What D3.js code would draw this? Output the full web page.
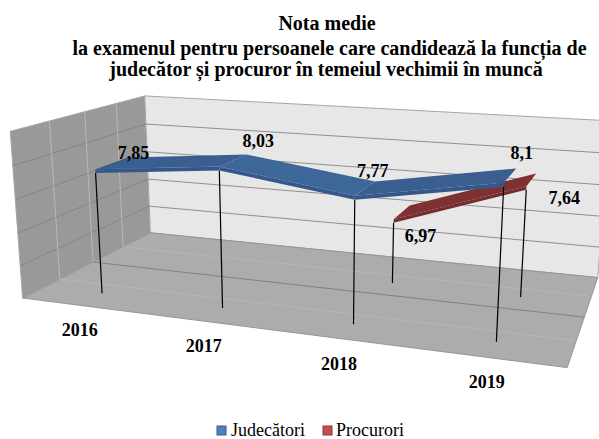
<!DOCTYPE html>
<html><head><meta charset="utf-8">
<script src="https://cdn.jsdelivr.net/npm/d3@7"></script>
<style>html,body{margin:0;padding:0;background:#fff;overflow:hidden}svg{display:block}text{font-family:"Liberation Serif",serif;fill:#000}</style>
</head><body><svg id="c" width="599" height="439"></svg>
<script>
const categories = ["2016","2017","2018","2019"];
const seriesNames = ["Judecători","Procurori"];
const judecatori = [7.85,8.03,7.77,8.1];
const procurori = [null,null,6.97,7.64];
const seriesValues = [judecatori,procurori];
const titleLines = ["Nota medie","la examenul pentru persoanele care candidează la funcția de","judecător și procuror în temeiul vechimii în muncă"];
const seriesColors = ["#3e6799","#8a3434"];
const seriesColorsAlt = ["#395e8f","#7f3030"];
const seriesFace = ["#35588a","#752c2c"];
const legendFill = ["#4f81bd","#c0504d"];
const legendStroke = ["#385d8a","#8c3836"];

// Perspective camera: fitted from the visible corners of the 3-D box (u across, z depth, w up)
const corners = [[0,0,0,23,298],[1,0,0,567,368],[0,1,0,150,233],[1,1,0,598,277],[0,0,1,10,131],[0,1,1,145,96],[1,1,1,609,121]];
function fitCamera(pts){
  const A=[],b=[];
  pts.forEach(([X,Y,Z,px,py])=>{
    const x=px/100,y=py/100;
    A.push([X,Y,Z,1,0,0,0,0,-x*X,-x*Y,-x*Z]);b.push(x);
    A.push([0,0,0,0,X,Y,Z,1,-y*X,-y*Y,-y*Z]);b.push(y);
  });
  const n=11,M=d3.range(n).map(i=>d3.range(n+1).map(j=>{
    let s=0;A.forEach((r,k)=>{s+=r[i]*(j<n?r[j]:b[k]);});return s;}));
  for(let i=0;i<n;i++){
    let p=i;for(let r=i+1;r<n;r++)if(Math.abs(M[r][i])>Math.abs(M[p][i]))p=r;
    [M[i],M[p]]=[M[p],M[i]];
    for(let r=0;r<n;r++){if(r===i)continue;const f=M[r][i]/M[i][i];for(let c=i;c<=n;c++)M[r][c]-=f*M[i][c];}
  }
  return d3.range(n).map(i=>M[i][n]/M[i][i]);
}
const P=fitCamera(corners);
function project(u,z,w){
  const d=P[8]*u+P[9]*z+P[10]*w+1;
  return [100*(P[0]*u+P[1]*z+P[2]*w+P[3])/d,100*(P[4]*u+P[5]*z+P[6]*w+P[7])/d];
}
const xBand=d3.scaleBand().domain(categories).range([0,1]);
const xPos=c=>xBand(c)+xBand.bandwidth()/2;
const zBand=d3.scaleBand().domain(seriesNames).range([.02,1.02]).paddingInner(.52).paddingOuter(.26);
const yScale=d3.scaleLinear().domain([6,8.5]).range([0,1]);
const zTicks=[.25,.5,.75];
const ribbonThickness=.022;

const svg=d3.select("#c");
const poly=pts=>"M"+pts.map(p=>p.map(v=>v.toFixed(2)).join(",")).join("L")+"Z";
const line=(a,b,stroke,sw)=>svg.append("line").attr("x1",a[0]).attr("y1",a[1]).attr("x2",b[0]).attr("y2",b[1]).attr("stroke",stroke).attr("stroke-width",sw);

// walls and floor
svg.append("path").attr("d",poly([project(0,0,0),project(0,1,0),project(0,1,1),project(0,0,1)])).attr("fill","#999999").attr("stroke","#a6a6a6").attr("stroke-width",1);
svg.append("path").attr("d",poly([project(0,1,0),project(1,1,0),project(1,1,1),project(0,1,1)])).attr("fill","#e7e7e7").attr("stroke","#a6a6a6").attr("stroke-width",1);
svg.append("path").attr("d",poly([project(0,0,0),project(1,0,0),project(1,1,0),project(0,1,0)])).attr("fill","#acacac").attr("stroke","#959595").attr("stroke-width",1);

// value gridlines on the walls
yScale.ticks(5).slice(1,-1).forEach(v=>{
  const w=yScale(v);
  line(project(0,0,w),project(0,1,w),"#858585",1);
  line(project(0,1,w),project(1,1,w),"#8f8f8f",1);
});
// depth gridlines
zTicks.forEach(z=>{
  const mid=z===.5;
  line(project(0,z,0),project(1,z,0),mid?"#808080":"#b6b6b6",1);
  line(project(0,z,0),project(0,z,1),"#b8b8b8",1);
});

// series, back to front
d3.range(seriesNames.length).reverse().forEach(si=>{
  const name=seriesNames[si],vals=seriesValues[si];
  const z0=zBand(name),z1=z0+zBand.bandwidth(),t=ribbonThickness;
  const pts=categories.map((c,i)=>({c,v:vals[i],u:xPos(c)})).filter(d=>d.v!==null);
  pts.forEach(d=>line(project(d.u,z0,0),project(d.u,z0,yScale(d.v)),"#000",1.2));
  d3.pairs(pts).forEach(([a,b],k)=>{
    const wa=yScale(a.v),wb=yScale(b.v);
    svg.append("path").attr("d",poly([project(a.u,z0,wa+t),project(b.u,z0,wb+t),project(b.u,z1,wb+t),project(a.u,z1,wa+t)]))
      .attr("fill",k%2?seriesColors[si]:seriesColorsAlt[si]);
    svg.append("path").attr("d",poly([project(a.u,z0,wa),project(b.u,z0,wb),project(b.u,z0,wb+t),project(a.u,z0,wa+t)]))
      .attr("fill",seriesFace[si]);
  });
});

// data labels, placed relative to each projected point
const labelOffsets=[[[38,-20],[39,-29],[18,-29],[18,-34]],[null,null,[27,13],[38,8]]];
const fmt=v=>String(v).replace(".",",");
seriesNames.forEach((name,si)=>{
  categories.forEach((c,i)=>{
    const v=seriesValues[si][i];if(v===null)return;
    const p=project(xPos(c),zBand(name),yScale(v)),o=labelOffsets[si][i];
    svg.append("text").attr("x",p[0]+o[0]).attr("y",p[1]+o[1]+6).attr("text-anchor","middle")
      .attr("font-size",18).attr("font-weight","bold").text(fmt(v));
  });
});
// category labels
categories.forEach(c=>{
  const p=project(xPos(c),0,0);
  svg.append("text").attr("x",p[0]-1).attr("y",p[1]+31).attr("text-anchor","middle")
    .attr("font-size",18).attr("font-weight","bold").text(c);
});
// title
const titleX=[327,329.5,326],titleY=[30,55,76];
titleLines.forEach((t,i)=>{
  svg.append("text").attr("x",titleX[i]).attr("y",titleY[i]).attr("text-anchor","middle")
    .attr("font-size",20).attr("font-weight","bold").text(t);
});
// legend
const legendX=[217,323],legendTextX=[231,336];
seriesNames.forEach((n,i)=>{
  svg.append("rect").attr("x",legendX[i]).attr("y",426).attr("width",9).attr("height",9)
    .attr("fill",legendFill[i]).attr("stroke",legendStroke[i]);
  svg.append("text").attr("x",legendTextX[i]).attr("y",436).attr("font-size",18).text(n);
});
</script></body></html>
